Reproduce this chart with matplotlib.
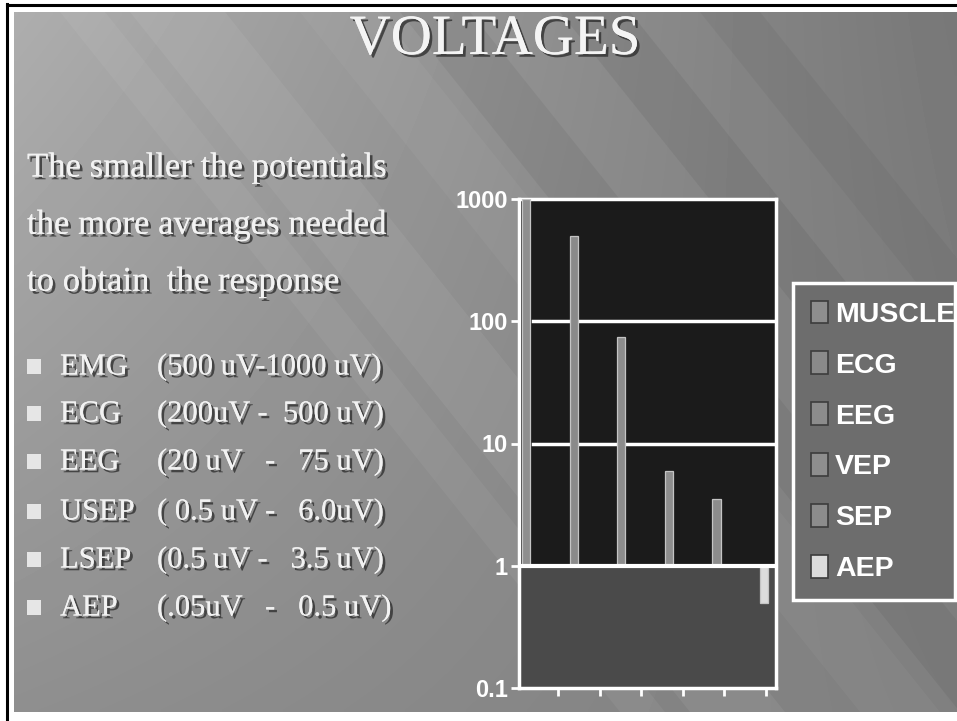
import numpy as np
import matplotlib
matplotlib.use('Agg')
import matplotlib.pyplot as plt
import matplotlib.patheffects as pe
from matplotlib.patches import Patch, Polygon, Rectangle
from matplotlib.ticker import FixedLocator, NullLocator

# data
signals = ['MUSCLE', 'ECG', 'EEG', 'VEP', 'SEP', 'AEP']
voltages = [1000, 500, 75, 6, 3.5, 0.5]          # uV, bars start at 1
bar_colors = ['#8e8e8e', '#8a8a8a', '#8c8c8c', '#8e8e8e', '#8c8c8c', '#dcdcdc']
ytick_vals = [0.1, 1, 10, 100, 1000]
ytick_labels = ['0.1', '1', '10', '100', '1000']

intro_lines = ['The smaller the potentials',
               'the more averages needed',
               'to obtain  the response']
list_names = ['EMG', 'ECG', 'EEG', 'USEP', 'LSEP', 'AEP']
list_ranges = ['(500 uV-1000 uV)', '(200uV -  500 uV)', '(20 uV   -   75 uV)',
               '( 0.5 uV -   6.0uV)', '(0.5 uV -   3.5 uV)', '(.05uV   -   0.5 uV)']

W, H = 957, 721
fig = plt.figure(figsize=(W / 100, H / 100), dpi=100)
fig.patch.set_facecolor('white')

# background slide, drawn in pixel coordinates
bg = fig.add_axes([0, 0, 1, 1])
bg.set_xlim(0, W)
bg.set_ylim(H, 0)
bg.axis('off')

gx = np.linspace(0, 1, 200)
gy = np.linspace(0, 1, 150)[:, None]
shade = (0.68 * (1 - gx) + 0.47 * gx) * (1 - gy) + (0.56 * (1 - gx) + 0.50 * gx) * gy
bg.imshow(shade, cmap='gray', vmin=0, vmax=1, extent=[14, W, 712, 12],
          aspect='auto', interpolation='bilinear', zorder=0)

# diagonal light / dark bands
bands = [(60, 45, 'white', 0.05), (130, 95, 'white', 0.06), (300, 80, 'white', 0.04),
         (400, 70, 'black', 0.05), (560, 70, 'black', 0.06), (700, 60, 'black', 0.04)]
slope = 1.25
for x0, bw, c, a in bands:
    dy = 700
    poly = Polygon([(x0, 12), (x0 + bw, 12), (x0 + bw + dy / slope, 12 + dy),
                    (x0 + dy / slope, 12 + dy)], closed=True, facecolor=c, alpha=a,
                   edgecolor='none', zorder=1)
    poly.set_clip_path(Rectangle((14, 12), W - 14, 700, transform=bg.transData))
    bg.add_patch(poly)

# black frame of the scan
bg.plot([7, 7], [4, 720], color='black', lw=2.2, zorder=2)
bg.plot([7, W], [4.5, 4.5], color='black', lw=2.2, zorder=2)

shadow = [pe.withSimplePatchShadow(offset=(2, -2), shadow_rgbFace='#303030', alpha=0.8),
          pe.Normal()]

fig.text(495 / W, 1 - 40 / H, 'VOLTAGES', ha='center', va='center', fontsize=41,
         family='Liberation Serif', color='#f4f4f4', path_effects=shadow)

for i, line in enumerate(intro_lines):
    fig.text(27 / W, 1 - (168 + 57 * i) / H, line, ha='left', va='center', fontsize=25,
             family='Liberation Serif', color='#f2f2f2', path_effects=shadow)

row_y = [367, 414, 462, 512, 560, 608]
for name, rng, yy in zip(list_names, list_ranges, row_y):
    bg.add_patch(Rectangle((27, yy - 8), 14, 15, facecolor='#e6e6e6', edgecolor='none', zorder=3))
    fig.text(60 / W, 1 - yy / H, name, ha='left', va='center', fontsize=22,
             family='Liberation Serif', color='#f2f2f2', path_effects=shadow)
    fig.text(157 / W, 1 - yy / H, rng, ha='left', va='center', fontsize=22,
             family='Liberation Serif', color='#f2f2f2', path_effects=shadow)

# chart
ax = fig.add_axes([519 / W, 1 - 688 / H, (776 - 519) / W, (688 - 199) / H])
ax.set_yscale('log')
ax.set_ylim(0.1, 1000)
ax.set_xlim(-0.147, 5.25)
ax.set_facecolor('#1b1b1b')
ax.axhspan(0.1, 1, color='#4a4a4a', zorder=0)

x = np.arange(len(signals))
heights = np.array(voltages) - 1
bars = ax.bar(x, heights, bottom=1, width=0.17, color=bar_colors,
              edgecolor='#c4c4c4', linewidth=0.9, zorder=3)

for yv in [10, 100]:
    ax.axhline(yv, xmin=0.055, xmax=1, color='white', lw=2.5, zorder=2)
ax.axhline(1, color='white', lw=3, zorder=4)

for sp in ax.spines.values():
    sp.set_color('white')
    sp.set_linewidth(2.5)

ax.yaxis.set_major_locator(FixedLocator(ytick_vals))
ax.yaxis.set_minor_locator(NullLocator())
ax.set_yticklabels(ytick_labels)
ax.set_xticks(np.linspace(0.67, 5.04, 6))
ax.set_xticklabels([])
ax.tick_params(axis='both', colors='white', width=2, length=6, direction='out', pad=2)
for lab in ax.get_yticklabels():
    lab.set_family('Liberation Sans')
    lab.set_weight('bold')
    lab.set_fontsize(17)
    lab.set_color('white')

handles = [Patch(facecolor=c, edgecolor='#3c3c3c', linewidth=1.2) for c in bar_colors]
leg = fig.legend(handles, signals, loc='upper left',
                 bbox_to_anchor=(793 / W, 1 - 283 / H - 0.1, (955 - 793) / W, 0.1),
                 mode='expand', frameon=True, fancybox=False, facecolor='#6d6d6d',
                 edgecolor='white', framealpha=1, handlelength=0.6, handleheight=0.85,
                 handletextpad=0.25, labelspacing=0.83, borderpad=0.62, borderaxespad=0,
                 prop={'family': 'Liberation Sans', 'weight': 'bold', 'size': 20.5})
leg.get_frame().set_linewidth(2.5)
for t in leg.get_texts():
    t.set_color('white')

fig.savefig('out.png', dpi=100, facecolor=fig.get_facecolor())
